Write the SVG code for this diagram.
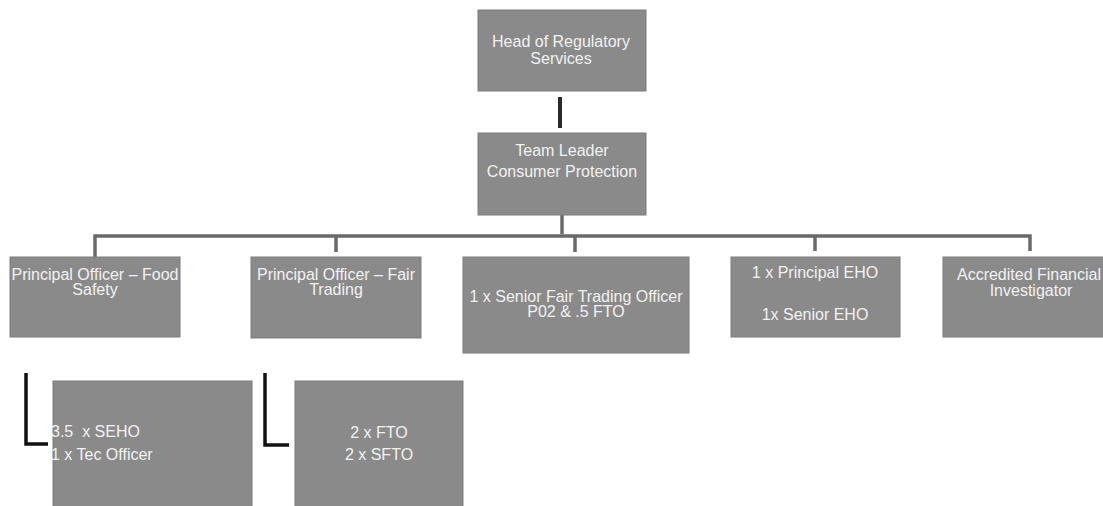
<svg xmlns="http://www.w3.org/2000/svg" width="1103" height="506" viewBox="0 0 1103 506">
<style>
.box{fill:#8a8a8a;stroke:#7c7c7c;stroke-width:1}
.t{font-family:"Liberation Sans",Arial,sans-serif;font-size:16px;fill:#f2f2f2;text-anchor:middle}
.tl{font-family:"Liberation Sans",Arial,sans-serif;font-size:16px;fill:#f2f2f2;white-space:pre}
.bar{stroke:#6a6a6a;stroke-width:3.5;fill:none}
.dark{stroke:#2a2a2a;stroke-width:4;fill:none}
.blk{stroke:#111;stroke-width:3.5;fill:none}
</style>
<rect width="1103" height="506" fill="#ffffff"/>
<g id="connectors">
<line class="dark" x1="560" y1="97" x2="560" y2="128"/>
<line class="bar" x1="562" y1="215" x2="562" y2="234"/>
<polyline class="bar" points="95,257 95,236 1030,236 1030,251"/>
<line class="bar" x1="336" y1="236" x2="336" y2="252"/>
<line class="bar" x1="575" y1="236" x2="575" y2="252"/>
<line class="bar" x1="815" y1="236" x2="815" y2="251"/>
<polyline class="blk" points="26,373 26,444 48,444"/>
<polyline class="blk" points="265,373 265,445 289,445"/>
</g>
<g id="head">
<rect class="box" x="478" y="10" width="168" height="81"/>
<text class="t" x="561" y="47">Head of Regulatory</text>
<text class="t" x="561" y="64">Services</text>
</g>
<g id="team-leader">
<rect class="box" x="478" y="133" width="168" height="82"/>
<text class="t" x="562" y="156">Team Leader</text>
<text class="t" x="562" y="177">Consumer Protection</text>
</g>
<g id="po-food">
<rect class="box" x="10" y="257" width="170" height="80"/>
<text class="t" x="95" y="280">Principal Officer – Food</text>
<text class="t" x="95" y="295">Safety</text>
</g>
<g id="po-fair">
<rect class="box" x="251" y="257" width="170" height="81"/>
<text class="t" x="336" y="280">Principal Officer – Fair</text>
<text class="t" x="336" y="295">Trading</text>
</g>
<g id="senior-fto">
<rect class="box" x="463" y="257" width="226" height="96"/>
<text class="t" x="576" y="302">1 x Senior Fair Trading Officer</text>
<text class="t" x="576" y="317">P02 &amp; .5 FTO</text>
</g>
<g id="principal-eho">
<rect class="box" x="731" y="257" width="169" height="80"/>
<text class="t" x="815" y="278">1 x Principal EHO</text>
<text class="t" x="815" y="320">1x Senior EHO</text>
</g>
<g id="afi">
<rect class="box" x="943" y="257" width="165" height="80"/>
<text class="t" x="1029" y="280">Accredited Financial</text>
<text class="t" x="1031" y="296">Investigator</text>
</g>
<g id="seho">
<rect class="box" x="53" y="381" width="199" height="130"/>
<text class="tl" x="51" y="437">3.5  x SEHO</text>
<text class="tl" x="51" y="460">1 x Tec Officer</text>
</g>
<g id="fto">
<rect class="box" x="295" y="381" width="168" height="130"/>
<text class="t" x="379" y="438">2 x FTO</text>
<text class="t" x="379" y="460">2 x SFTO</text>
</g>
</svg>
